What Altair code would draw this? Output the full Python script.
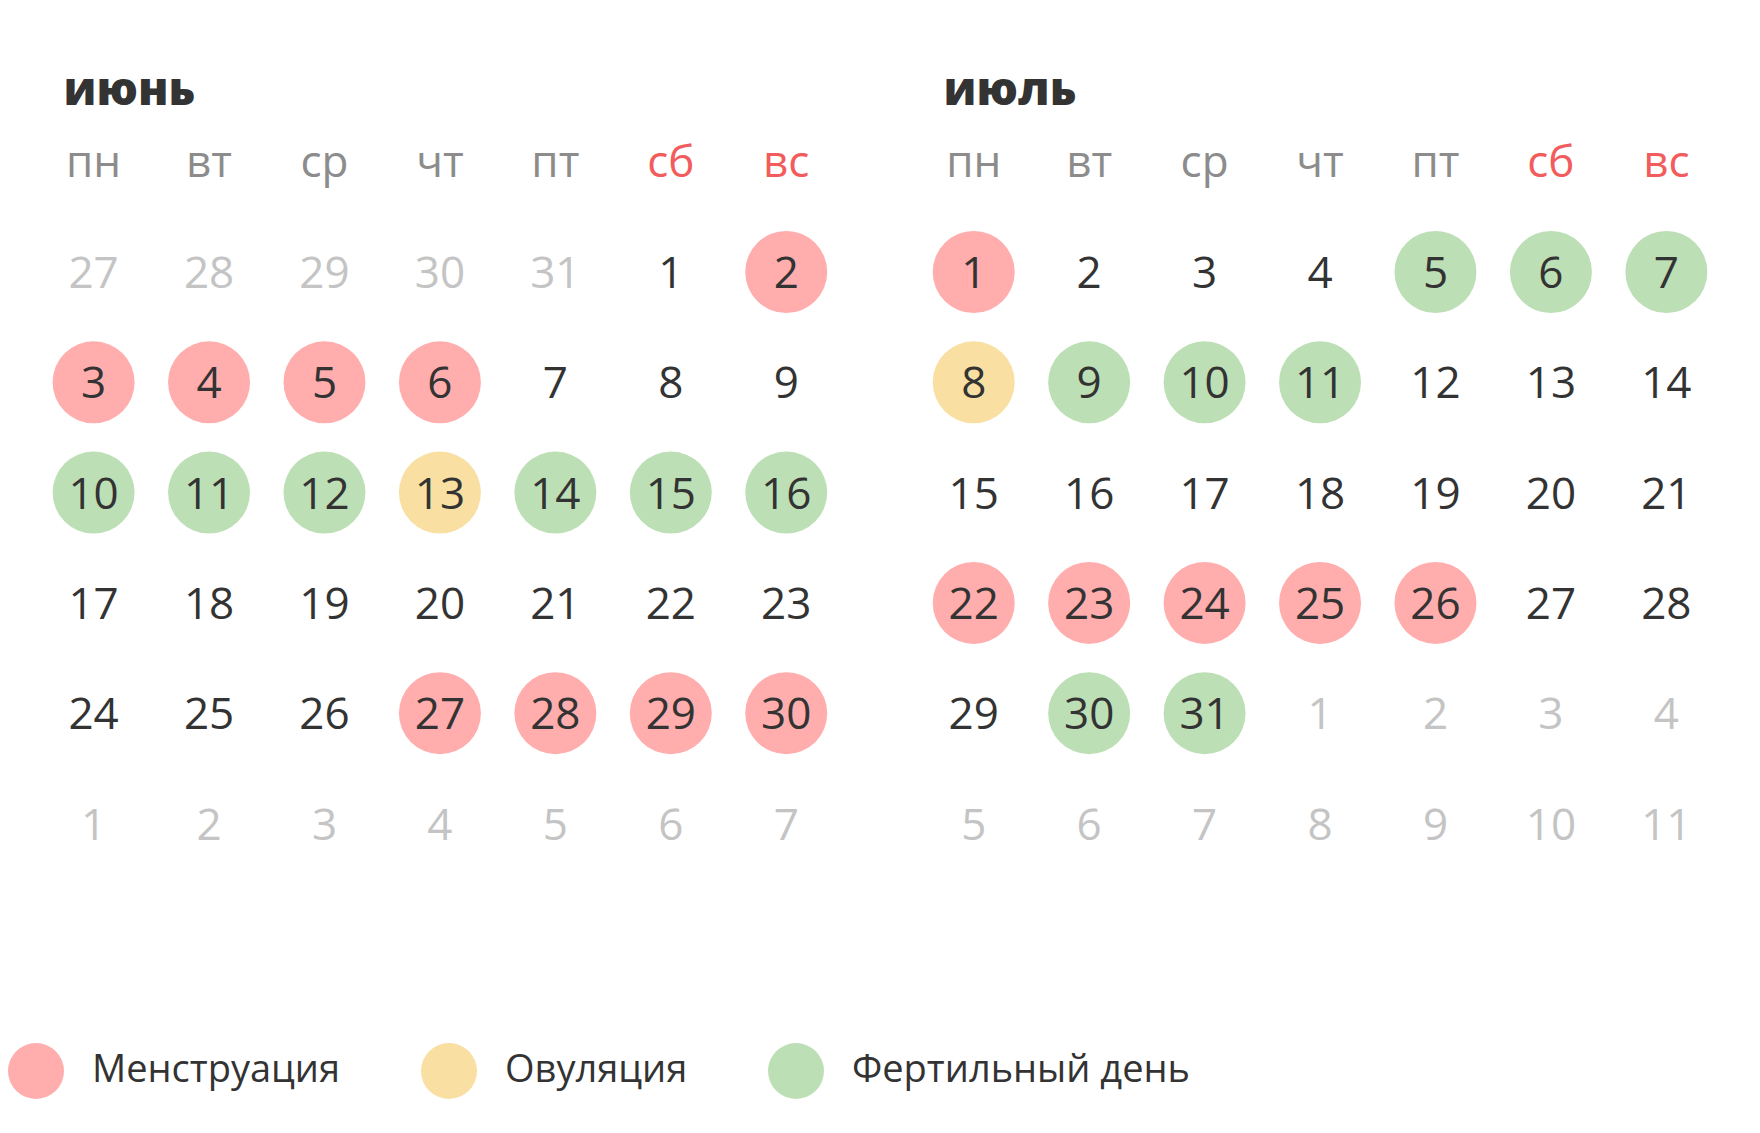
import altair as alt
import pandas as pd

# --- data -------------------------------------------------------------
months = ["июнь", "июль"]
weekdays = ["пн", "вт", "ср", "чт", "пт", "сб", "вс"]
weekend = ["сб", "вс"]

june_weeks = [
    [27, 28, 29, 30, 31, 1, 2],
    [3, 4, 5, 6, 7, 8, 9],
    [10, 11, 12, 13, 14, 15, 16],
    [17, 18, 19, 20, 21, 22, 23],
    [24, 25, 26, 27, 28, 29, 30],
    [1, 2, 3, 4, 5, 6, 7],
]
july_weeks = [
    [1, 2, 3, 4, 5, 6, 7],
    [8, 9, 10, 11, 12, 13, 14],
    [15, 16, 17, 18, 19, 20, 21],
    [22, 23, 24, 25, 26, 27, 28],
    [29, 30, 31, 1, 2, 3, 4],
    [5, 6, 7, 8, 9, 10, 11],
]

phases = ["Менструация", "Овуляция", "Фертильный день"]
phase_colors = ["#FFADAD", "#F9DFA1", "#BDDFB5"]

june_menstruation = [2, 3, 4, 5, 6, 27, 28, 29, 30]
june_ovulation = [13]
june_fertile = [10, 11, 12, 14, 15, 16]

july_menstruation = [1, 22, 23, 24, 25, 26]
july_ovulation = [8]
july_fertile = [5, 6, 7, 9, 10, 11, 30, 31]

# --- layout -----------------------------------------------------------
W, H = 1720, 1105
COL = 115.44         # px per column
ROW = 110.3          # px per row
MONTH_SHIFT = 7.624  # columns between the two month grids
x_dom = [-85.6 / COL, -85.6 / COL + W / COL]
y_dom = [-264 / ROW, -264 / ROW + H / ROW]
TITLE_ROW = -1.514
TITLE_COL = -0.261

FONT = "Open Sans"
DARK = "#333333"


def build_days(weeks, groups, shift):
    rows = []
    for r, week in enumerate(weeks):
        for c, d in enumerate(week):
            outside = (r == 0 and d > 7) or (r >= 4 and d < 15)
            phase = None
            if not outside:
                for name, days in zip(phases, groups):
                    if d in days:
                        phase = name
            rows.append({"x": c + shift, "y": r, "day": str(d),
                         "outside": outside, "phase": phase})
    return rows


days = pd.DataFrame(
    build_days(june_weeks, [june_menstruation, june_ovulation, june_fertile], 0)
    + build_days(july_weeks, [july_menstruation, july_ovulation, july_fertile], MONTH_SHIFT)
)

header = pd.DataFrame([
    {"x": c + m * MONTH_SHIFT, "y": -1, "label": w, "weekend": w in weekend}
    for m in range(len(months)) for c, w in enumerate(weekdays)
])

titles = pd.DataFrame([
    {"x": TITLE_COL + m * MONTH_SHIFT, "y": TITLE_ROW, "label": name}
    for m, name in enumerate(months)
])

x_enc = alt.X("x:Q", scale=alt.Scale(domain=x_dom, nice=False, zero=False), axis=None)
y_enc = alt.Y("y:Q", scale=alt.Scale(domain=y_dom, nice=False, zero=False, reverse=True), axis=None)

circles = (
    alt.Chart(days)
    .transform_filter("datum.phase != null")
    .mark_circle(size=6724, opacity=1)
    .encode(
        x=x_enc,
        y=y_enc,
        color=alt.Color(
            "phase:N",
            scale=alt.Scale(domain=phases, range=phase_colors),
            legend=alt.Legend(
                title=None, orient="none", direction="horizontal",
                legendX=0, legendY=1035, symbolType="circle",
                symbolSize=3136, symbolStrokeWidth=0, symbolOpacity=1,
                labelFont=FONT, labelFontSize=38, labelColor=DARK,
                labelOffset=28, columnPadding=80, padding=0,
                labelLimit=600,
            ),
        ),
    )
)

numbers = (
    alt.Chart(days)
    .mark_text(font=FONT, fontSize=44, baseline="alphabetic", dy=16)
    .encode(
        x=x_enc,
        y=y_enc,
        text="day:N",
        color=alt.condition("datum.outside", alt.value("#C4C4C4"), alt.value(DARK)),
    )
)

weekday_row = (
    alt.Chart(header)
    .mark_text(font=FONT, fontSize=44, baseline="alphabetic", dy=15)
    .encode(
        x=x_enc,
        y=y_enc,
        text="label:N",
        color=alt.condition("datum.weekend", alt.value("#F25C5C"), alt.value("#8C8C8C")),
    )
)

month_titles = (
    alt.Chart(titles)
    .mark_text(font=FONT, fontSize=46, fontWeight=800, align="left",
               baseline="alphabetic", color=DARK)
    .encode(x=x_enc, y=y_enc, text="label:N")
)

chart = (
    alt.layer(circles, numbers, weekday_row, month_titles)
    .properties(width=W, height=H, padding=0, autosize=alt.AutoSizeParams(type="none"))
    .configure_view(strokeWidth=0)
)

chart.save("out.html", embed_options={"renderer": "svg", "actions": False})
